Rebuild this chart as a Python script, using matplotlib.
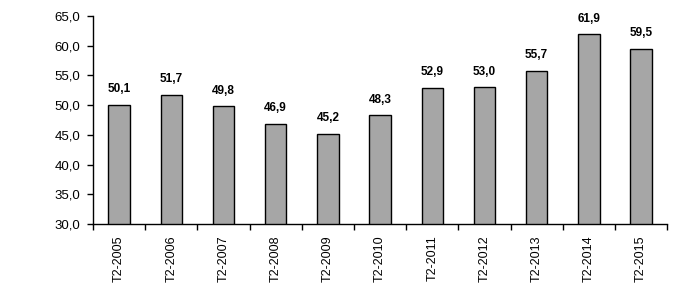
import matplotlib
matplotlib.use("Agg")
import matplotlib.pyplot as plt
from matplotlib import font_manager
import numpy as np

periods = ["T2-2005", "T2-2006", "T2-2007", "T2-2008", "T2-2009", "T2-2010",
           "T2-2011", "T2-2012", "T2-2013", "T2-2014", "T2-2015"]
values = [50.1, 51.7, 49.8, 46.9, 45.2, 48.3, 52.9, 53.0, 55.7, 61.9, 59.5]
y_ticks = [30, 35, 40, 45, 50, 55, 60, 65]

plt.rcParams["font.family"] = ["Liberation Sans", "DejaVu Sans"]

# narrow bold font for the value labels, if there is one
try:
    font_manager.findfont(font_manager.FontProperties(family="Liberation Sans Narrow", weight="bold"),
                          fallback_to_default=False)
    value_family, value_size = "Liberation Sans Narrow", 10.5
except Exception:
    value_family, value_size = "Liberation Sans", 8.5

fig = plt.figure(figsize=(7, 3), dpi=100)
ax = fig.add_axes([0.133, 0.253, 0.82, 0.694])

x = np.arange(len(periods))
ax.bar(x, values, width=0.41, color="#a6a6a6", edgecolor="black", linewidth=1.0, zorder=2)

for xi, v in zip(x, values):
    ax.annotate(f"{v:.1f}".replace(".", ","), (xi, v), xytext=(0, 7),
                textcoords="offset points", ha="center", va="bottom",
                fontsize=value_size, fontweight="bold", family=value_family)

ax.set_xlim(-0.5, len(periods) - 0.5)
ax.set_ylim(30, 65)
ax.set_yticks(y_ticks)
ax.set_yticklabels([f"{t:.1f}".replace(".", ",") for t in y_ticks], fontsize=9.5)

ax.set_xticks(x)
ax.set_xticklabels(periods, rotation=90, fontsize=9)
ax.tick_params(axis="x", which="major", length=0, pad=8)
ax.set_xticks(np.arange(-0.5, len(periods)), minor=True)
ax.tick_params(axis="x", which="minor", length=4, width=1, direction="out")
ax.tick_params(axis="y", length=4, width=1, direction="out", pad=5)

for s in ["top", "right"]:
    ax.spines[s].set_visible(False)
ax.spines["left"].set_linewidth(1)
ax.spines["bottom"].set_linewidth(1)

plt.savefig("out.png", dpi=100)
